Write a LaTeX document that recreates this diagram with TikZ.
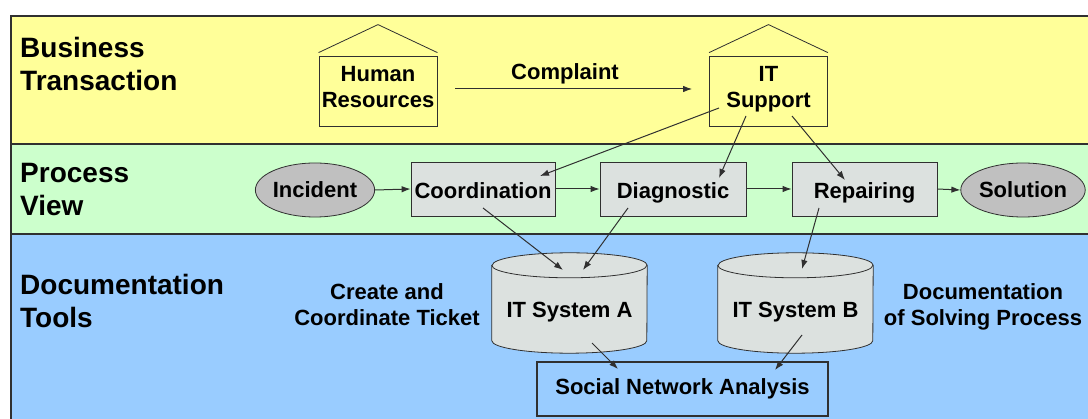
\documentclass[tikz,border=0pt]{standalone}
\usepackage{fontspec}
\setmainfont{Liberation Sans}
\usetikzlibrary{arrows.meta,shapes.geometric}

\definecolor{bandyellow}{HTML}{FFFF99}
\definecolor{bandgreen}{HTML}{CCFFCC}
\definecolor{bandblue}{HTML}{99CCFF}
\definecolor{boxgray}{HTML}{DCE1DF}
\definecolor{ovalgray}{HTML}{C0C0C0}
\definecolor{ink}{HTML}{303030}

\tikzset{
  band/.style={draw=ink, line width=1.4pt},
  lanelabel/.style={anchor=west, align=left, inner sep=0pt,
    font=\fontsize{28}{33}\selectfont\bfseries},
  house/.style={draw=ink, line width=0.8pt, fill=bandyellow, inner sep=0pt,
    minimum width=118pt, minimum height=70pt, align=center, text depth=8pt,
    font=\fontsize{22}{26}\selectfont\bfseries},
  stepbox/.style={draw=ink, line width=0.8pt, fill=boxgray, inner sep=0pt,
    minimum width=145pt, minimum height=54pt, text height=20pt, text depth=0pt,
    font=\fontsize{22}{26}\selectfont\bfseries},
  oval/.style={ellipse, draw=ink, line width=0.8pt, fill=ovalgray, inner sep=0pt,
    minimum width=100pt, minimum height=54pt,
    font=\fontsize{22}{26}\selectfont\bfseries},
  store/.style={inner sep=0pt, minimum width=155pt, minimum height=87.5pt,
    font=\fontsize{22}{26}\selectfont\bfseries},
  cyl/.style={draw=ink, line width=0.8pt, fill=boxgray},
  note/.style={align=center, inner sep=0pt,
    font=\fontsize{22}{26}\selectfont\bfseries},
  flow/.style={draw=ink, line width=1pt,
    -{Latex[length=9pt,width=6.5pt]}},
}

\begin{document}
\begin{tikzpicture}[x=1pt,y=-1pt]
\useasboundingbox (0,0) rectangle (1088,419);

% swim lanes
\fill[bandyellow] (11,16) rectangle (1088,144);
\fill[bandgreen]  (11,144) rectangle (1088,234);
\fill[bandblue]   (11,234) rectangle (1088,419);
\draw[band] (1088,16) -- (11,16) -- (11,419);
\draw[band] (11,144) -- (1088,144);
\draw[band] (11,234) -- (1088,234);

\node[lanelabel] (lane1) at (20,63.5) {Business\\Transaction};
\node[lanelabel] (lane2) at (20,190) {Process\\View};
\node[lanelabel] (lane3) at (20,300.5) {Documentation\\Tools};

% business actors (houses)
\node[house] (hr)  at (378,91)   {Human\\Resources};
\node[house] (its) at (768.5,91) {IT\\Support};
\foreach \h in {hr,its}
  \draw[ink, line width=0.8pt] ([yshift=3pt]\h.north west) --
    ([yshift=31pt]\h.north) -- ([yshift=3pt]\h.north east);

\node[note] (complaint) at (565,74) {Complaint};
\draw[flow, shorten <=18pt, shorten >=17pt] ([yshift=2pt]hr.east) -- ([yshift=2pt]its.west);

% process steps
\node[oval]    (incident) at (315,190)   {Incident};
\node[stepbox, minimum width=144pt] (coord) at (483,189) {Coordination};
\node[stepbox, minimum width=146pt] (diag)  at (673,189) {Diagnostic};
\node[stepbox] (rep)      at (864.5,189) {Repairing};
\node[oval]    (sol)      at (1023,190)  {Solution};

\draw[flow] (incident.east) -- (coord.west);
\draw[flow] (coord.east) -- (diag.west);
\draw[flow] (diag.east) -- (rep.west);
\draw[flow] (rep.east) -- (sol.west);

\draw[flow] ([shift={(-49.5,17)}]its.center) -- ([shift={(57,-13)}]coord.center);
\draw[flow] ([shift={(-22.5,25)}]its.center) -- ([shift={(46,-11)}]diag.center);
\draw[flow] ([shift={(23.5,25)}]its.center)  -- ([shift={(-19.5,-9)}]rep.center);

% documentation systems (cylinders)
\node[store] (sysA) at (569.5,309.25) {};
\node[store] (sysB) at (795.5,309.25) {};
\foreach \s in {sysA,sysB}{
  \path[cyl] (\s.north west) -- ([yshift=12.5pt]\s.south west)
    arc[start angle=180,end angle=360,x radius=77.5pt,y radius=12.5pt]
    -- (\s.north east)
    arc[start angle=0,end angle=180,x radius=77.5pt,y radius=12.5pt] -- cycle;
  \draw[ink, line width=0.8pt] (\s.north west)
    arc[start angle=180,end angle=360,x radius=77.5pt,y radius=12.5pt];
}
\node[store, yshift=-3pt] at (sysA) {IT System A};
\node[store, yshift=-3pt] at (sysB) {IT System B};

\node[note] (ticket) at (387,305) {Create and\\Coordinate Ticket};
\node[note] (solving) at (983,306.5) {Documentation\\of Solving Process};

\node[draw=ink, line width=2pt, inner sep=0pt, minimum width=291pt,
  minimum height=54pt, font=\fontsize{22}{26}\selectfont\bfseries]
  (sna) at (682.5,389) {Social Network Analysis};

\draw[flow] ([shift={(0,19)}]coord.center)   -- ([shift={(-6.5,-39.25)}]sysA.center);
\draw[flow] ([shift={(-45,19)}]diag.center)  -- ([shift={(13.5,-39.25)}]sysA.center);
\draw[flow] ([shift={(-45.5,19)}]rep.center) -- ([shift={(6.5,-40.25)}]sysB.center);
\draw[flow] ([shift={(22.5,33.75)}]sysA.center) -- ([shift={(-64.5,-20)}]sna.center);
\draw[flow] ([shift={(6.5,25.75)}]sysB.center)  -- ([shift={(92.5,-19)}]sna.center);
\end{tikzpicture}
\end{document}
